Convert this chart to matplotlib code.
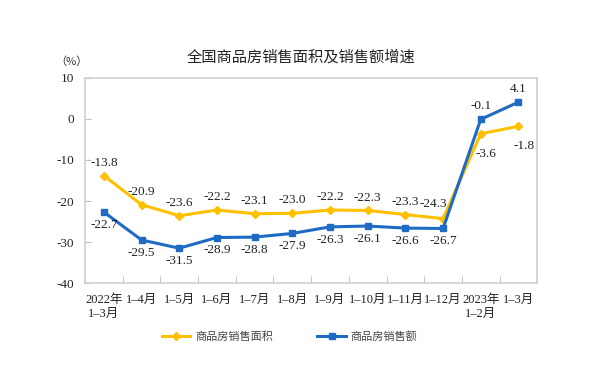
import matplotlib
matplotlib.use("Agg")
import matplotlib.pyplot as plt
import numpy as np

plt.rcParams['font.family'] = ['Liberation Serif', 'Noto Sans CJK SC']

categories = ["2022年\n1–3月", "1–4月", "1–5月", "1–6月", "1–7月", "1–8月", "1–9月",
              "1–10月", "1–11月", "1–12月", "2023年\n1–2月", "1–3月"]
area = [-13.8, -20.9, -23.6, -22.2, -23.1, -23.0, -22.2, -22.3, -23.3, -24.3, -3.6, -1.8]
sales = [-22.7, -29.5, -31.5, -28.9, -28.8, -27.9, -26.3, -26.1, -26.6, -26.7, -0.1, 4.1]
yticks = [10, 0, -10, -20, -30, -40]

yellow = '#FFC000'
blue = '#1F6BC4'

fig = plt.figure(figsize=(6.03, 3.71), dpi=100)
ax = fig.add_axes([0.141, 0.237, 0.750, 0.553])
x = np.arange(len(categories))

ax.plot(x, area, color=yellow, lw=2.2, marker='D', ms=4, label='商品房销售面积')
ax.plot(x, sales, color=blue, lw=2.2, marker='s', ms=4, label='商品房销售额')

for i, v in enumerate(area):
    if i < 9:
        off, va = (0, 5), 'bottom'
    elif i == 9:
        off, va = (-7, 6), 'bottom'
    else:
        off, va = (4, -10), 'top'
    ax.annotate(f"{v:.1f}", (i, v), xytext=off, textcoords='offset points',
                ha='center', va=va, fontsize=9.5, color='#222222')
for i, v in enumerate(sales):
    if i < 10:
        off, va = (0, -5), 'top'
    else:
        off, va = (0, 5), 'bottom'
    ax.annotate(f"{v:.1f}", (i, v), xytext=off, textcoords='offset points',
                ha='center', va=va, fontsize=9.5, color='#222222')

ax.set_xlim(-0.5, len(categories) - 0.5)
ax.set_ylim(-40, 10)
ax.set_yticks(yticks)
ax.set_yticklabels([str(t) for t in yticks], fontsize=9.5, color='#222222')
ax.tick_params(axis='y', direction='in', length=4, color='#BBBBBB', pad=8)
ax.set_xticks(x)
ax.set_xticklabels(categories, fontsize=9, color='#222222', va='top')
ax.tick_params(axis='x', length=0, pad=8)
ax.set_xticks(np.arange(-0.5, len(categories), 1), minor=True)
ax.tick_params(axis='x', which='minor', direction='in', length=5, color='#BBBBBB')
for s in ax.spines.values():
    s.set_color('#D0D0D0')
    s.set_linewidth(1.2)

fig.text(0.5, 0.845, '全国商品房销售面积及销售额增速', ha='center', va='center',
         fontsize=11, family=['Noto Sans CJK SC'], weight='medium', color='#222222')
fig.text(0.118, 0.835, '（%）', ha='center', va='center', fontsize=8,
         family=['Noto Sans CJK SC'], color='#333333')

leg = fig.legend(loc='center', bbox_to_anchor=(0.48, 0.094), ncol=2, frameon=False,
                 columnspacing=4, handlelength=2.6, handletextpad=0.4,
                 prop={'family': ['Noto Sans CJK SC'], 'size': 8})
for t in leg.get_texts():
    t.set_color('#444444')

fig.savefig('out.png', dpi=100)
